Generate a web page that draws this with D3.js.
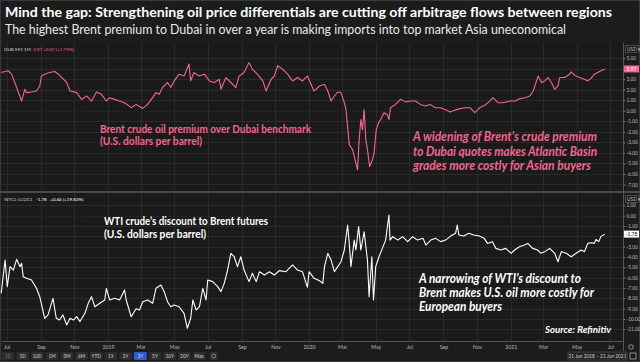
<!DOCTYPE html>
<html>
<head>
<meta charset="utf-8">
<script src="https://cdn.jsdelivr.net/npm/d3@7"></script>
<style>
body { margin: 0; background: #1c1c1c; }
svg { display: block; font-family: Lato, "Open Sans", sans-serif; }
</style>
</head>
<body>
<div id="chart"></div>
<script>
var width = 640;
var height = 362;

// Brent-Dubai EFS 1M (USD/bbl)
var brentDubai = [
  ["2018-06-21", 3.63], ["2018-07-04", 3.79], ["2018-07-10", 3.47], ["2018-07-19", 2.2],
  ["2018-07-28", 0.92], ["2018-08-03", 2.04], ["2018-08-06", 1.72], ["2018-08-15", 1.78],
  ["2018-08-24", 1.87], ["2018-08-30", 2.35], ["2018-09-02", 3.3], ["2018-09-08", 3.47],
  ["2018-09-17", 3.63], ["2018-09-26", 3.73], ["2018-10-03", 3.47], ["2018-10-09", 3.15],
  ["2018-10-18", 2.68], ["2018-10-24", 1.87], ["2018-11-05", 1.72], ["2018-11-14", 1.08],
  ["2018-11-23", 1.4], ["2018-12-02", 0.92], ["2018-12-11", 1.78], ["2018-12-20", 1.56],
  ["2018-12-29", 0.92], ["2019-01-04", 1.24], ["2019-01-13", 1.08], ["2019-01-22", 0.92],
  ["2019-01-31", 0.76], ["2019-02-12", 0.29], ["2019-02-21", 0.6], ["2019-03-05", 0.22],
  ["2019-03-14", 0.6], ["2019-03-23", 1.24], ["2019-03-29", 1.72], ["2019-04-04", 1.56],
  ["2019-04-10", 2.2], ["2019-04-19", 2.68], ["2019-04-25", 2.2], ["2019-05-01", 2.83],
  ["2019-05-10", 3.47], ["2019-05-19", 3.3], ["2019-05-28", 4.43], ["2019-05-31", 2.83],
  ["2019-06-06", 3.63], ["2019-06-15", 3.3], ["2019-06-25", 3.47], ["2019-07-04", 2.83],
  ["2019-07-13", 2.68], ["2019-07-22", 2.99], ["2019-07-25", 2.04], ["2019-08-03", 3.15],
  ["2019-08-12", 2.68], ["2019-08-21", 2.2], ["2019-08-27", 3.3], ["2019-09-05", 3.63],
  ["2019-09-14", 4.59], ["2019-09-20", 3.95], ["2019-09-29", 3.47], ["2019-10-09", 2.83],
  ["2019-10-15", 1.87], ["2019-10-24", 2.99], ["2019-10-30", 3.3], ["2019-11-05", 4.27],
  ["2019-11-14", 3.95], ["2019-11-23", 3.47], ["2019-12-02", 2.83], ["2019-12-11", 3.15],
  ["2019-12-20", 2.83], ["2019-12-29", 3.3], ["2020-01-10", 1.87], ["2020-01-20", 2.35],
  ["2020-01-29", 2.51], ["2020-02-04", 1.87], ["2020-02-10", 0.92], ["2020-02-16", 1.4],
  ["2020-02-22", 1.78], ["2020-02-28", 1.72], ["2020-03-05", 0.76], ["2020-03-08", 0.12],
  ["2020-03-14", -3.22], ["2020-03-20", -3.7], ["2020-03-23", -4.34], ["2020-03-29", -5.61],
  ["2020-04-01", -2.74], ["2020-04-04", -0.83], ["2020-04-07", -1.79], ["2020-04-10", 0.12],
  ["2020-04-13", -2.74], ["2020-04-16", -3.7], ["2020-04-20", -5.29], ["2020-04-25", -4.66],
  ["2020-04-28", -4.02], ["2020-05-02", -1.79], ["2020-05-06", -1.15], ["2020-05-10", -0.83],
  ["2020-05-16", -0.19], ["2020-05-22", -0.35], ["2020-05-25", -0.83], ["2020-05-28", 0.29],
  ["2020-06-06", 0.6], ["2020-06-15", 1.08], ["2020-06-24", 0.84], ["2020-07-03", 0.92],
  ["2020-07-12", 0.92], ["2020-07-21", 0.6], ["2020-07-30", 0.44], ["2020-08-08", 0.6],
  ["2020-08-17", 0.29], ["2020-08-26", 0.29], ["2020-09-04", 0.12], ["2020-09-13", -0.13],
  ["2020-09-22", 0.06], ["2020-10-01", 0.2], ["2020-10-10", 0.29], ["2020-10-19", 0.29],
  ["2020-10-28", -0.19], ["2020-11-06", 0.29], ["2020-11-15", 0.51], ["2020-11-24", 0.92],
  ["2020-11-30", 1.24], ["2020-12-09", 0.76], ["2020-12-18", 0.76], ["2020-12-31", 0.92],
  ["2021-01-09", 0.92], ["2021-01-18", 1.15], ["2021-01-27", 1.24], ["2021-02-05", 1.4],
  ["2021-02-11", 1.87], ["2021-02-17", 2.83], ["2021-02-20", 3.3], ["2021-02-26", 2.68],
  ["2021-03-04", 2.83], ["2021-03-10", 3.15], ["2021-03-16", 2.68], ["2021-03-22", 2.04],
  ["2021-03-28", 2.35], ["2021-03-31", 3.15], ["2021-04-09", 3.15], ["2021-04-18", 3.47],
  ["2021-04-21", 3.7], ["2021-04-27", 3.36], ["2021-05-06", 3.15], ["2021-05-15", 2.99],
  ["2021-05-21", 2.83], ["2021-05-27", 3.07], ["2021-06-02", 3.47], ["2021-06-08", 3.63],
  ["2021-06-14", 3.79], ["2021-06-21", 3.97]
];

// WTI - Brent front-month spread (USD/bbl)
var wtiBrent = [
  ["2018-06-21", -7.51], ["2018-06-28", -4.29], ["2018-07-02", -6.87], ["2018-07-07", -4.93],
  ["2018-07-13", -5.26], ["2018-07-19", -4.22], ["2018-07-25", -4.93], ["2018-07-28", -4.6],
  ["2018-07-31", -5.9], ["2018-08-06", -6.06], ["2018-08-15", -6.22], ["2018-08-24", -7.03],
  ["2018-08-30", -7.84], ["2018-09-08", -9.93], ["2018-09-14", -9.6], ["2018-09-23", -8.0],
  ["2018-09-29", -9.93], ["2018-10-05", -10.1], ["2018-10-11", -9.6], ["2018-10-18", -10.58],
  ["2018-10-24", -9.93], ["2018-10-30", -10.1], ["2018-11-05", -9.77], ["2018-11-11", -10.25],
  ["2018-11-20", -9.45], ["2018-11-26", -8.48], ["2018-12-02", -7.84], ["2018-12-08", -8.81],
  ["2018-12-17", -8.48], ["2018-12-26", -8.16], ["2018-12-29", -7.03], ["2019-01-04", -8.16],
  ["2019-01-13", -8.0], ["2019-01-22", -8.16], ["2019-01-31", -7.19], ["2019-02-03", -8.16],
  ["2019-02-12", -9.78], ["2019-02-21", -9.0], ["2019-02-27", -9.13], ["2019-03-05", -8.33],
  ["2019-03-14", -8.16], ["2019-03-23", -8.48], ["2019-03-29", -7.03], ["2019-04-07", -6.71],
  ["2019-04-13", -7.35], ["2019-04-19", -8.33], ["2019-04-25", -8.81], ["2019-05-01", -8.65],
  ["2019-05-10", -8.81], ["2019-05-19", -9.45], ["2019-05-25", -10.9], ["2019-05-31", -9.93],
  ["2019-06-04", -8.16], ["2019-06-10", -9.13], ["2019-06-16", -8.81], ["2019-06-22", -7.03],
  ["2019-06-28", -8.16], ["2019-07-01", -6.22], ["2019-07-10", -6.38], ["2019-07-19", -6.87],
  ["2019-07-25", -7.35], ["2019-07-31", -6.55], ["2019-08-06", -5.26], ["2019-08-12", -3.64],
  ["2019-08-18", -3.97], ["2019-08-24", -4.93], ["2019-08-30", -3.97], ["2019-09-05", -5.26],
  ["2019-09-14", -6.38], ["2019-09-20", -5.58], ["2019-09-27", -6.38], ["2019-10-03", -5.42],
  ["2019-10-12", -5.74], ["2019-10-21", -5.42], ["2019-10-30", -5.74], ["2019-11-08", -5.32],
  ["2019-11-20", -5.42], ["2019-12-02", -4.77], ["2019-12-11", -5.26], ["2019-12-20", -5.42],
  ["2019-12-29", -6.93], ["2020-01-01", -5.42], ["2020-01-10", -6.06], ["2020-01-20", -6.3],
  ["2020-01-26", -6.55], ["2020-01-29", -4.93], ["2020-02-04", -3.64], ["2020-02-10", -4.29],
  ["2020-02-16", -5.42], ["2020-02-22", -4.93], ["2020-02-28", -4.45], ["2020-03-05", -3.32],
  ["2020-03-11", -0.9], ["2020-03-14", -2.68], ["2020-03-17", -4.93], ["2020-03-23", -2.36],
  ["2020-03-26", -3.32], ["2020-03-31", -1.06], ["2020-04-04", -3.32], ["2020-04-10", -1.55],
  ["2020-04-16", -4.29], ["2020-04-19", -7.84], ["2020-04-24", -3.97], ["2020-04-27", -8.16],
  ["2020-05-01", -4.93], ["2020-05-07", -3.97], ["2020-05-13", -3.16], ["2020-05-19", -2.36],
  ["2020-05-25", 0.07], ["2020-05-27", -2.36], ["2020-06-01", -2.03], ["2020-06-10", -2.36],
  ["2020-06-19", -2.03], ["2020-06-28", -2.51], ["2020-07-07", -2.03], ["2020-07-16", -2.36],
  ["2020-07-26", -2.19], ["2020-07-31", -2.84], ["2020-08-09", -2.36], ["2020-08-18", -2.19],
  ["2020-08-27", -2.51], ["2020-09-05", -2.36], ["2020-09-14", -1.97], ["2020-09-23", -1.7],
  ["2020-09-26", -0.9], ["2020-09-29", -1.87], ["2020-10-08", -1.97], ["2020-10-17", -1.7],
  ["2020-10-26", -1.87], ["2020-11-05", -1.97], ["2020-11-14", -2.19], ["2020-11-20", -2.68],
  ["2020-11-29", -2.51], ["2020-12-05", -3.16], ["2020-12-14", -3.32], ["2020-12-23", -3.16],
  ["2021-01-02", -3.64], ["2021-01-08", -3.32], ["2021-01-17", -3.0], ["2021-01-26", -2.84],
  ["2021-02-01", -2.68], ["2021-02-10", -3.16], ["2021-02-19", -3.32], ["2021-02-25", -3.64],
  ["2021-03-04", -3.48], ["2021-03-13", -3.16], ["2021-03-22", -3.64], ["2021-03-28", -4.45],
  ["2021-04-03", -3.48], ["2021-04-12", -3.64], ["2021-04-21", -3.97], ["2021-04-30", -3.64],
  ["2021-05-09", -3.32], ["2021-05-15", -3.48], ["2021-05-21", -2.68], ["2021-05-27", -2.61],
  ["2021-06-02", -2.68], ["2021-06-05", -2.29], ["2021-06-10", -2.51], ["2021-06-14", -2.0],
  ["2021-06-21", -1.78]
];

var brentTicks = [-7, -6, -5, -4, -3, -2, -1, 0, 1, 2, 3, 4, 5];
var wtiTicks = [-11, -10, -9, -8, -7, -6, -5, -4, -3, -2, -1, 0, 1];
var rangeButtons = ["1D", "5D", "10D", "1M", "3M", "6M", "YTD", "1Y", "2Y", "3Y", "5Y", "10Y", "20Y", "Max"];
var activeRange = "3Y";
var dateRangeText = "21 Jun 2018  \u2013  21 Jun 2021";

var title = "Mind the gap: Strengthening oil price differentials are cutting off arbitrage flows between regions";
var subtitle = "The highest Brent premium to Dubai in over a year is making imports into top market Asia uneconomical";

var pink = "#f2668f";
var parseDate = d3.timeParse("%Y-%m-%d");
var fmt = function(d) { return d3.format(".2f")(d).replace("\u2212", "-"); };

var svg = d3.select("#chart").append("svg")
  .attr("width", width)
  .attr("height", height);

svg.append("rect").attr("width", width).attr("height", height).attr("fill", "#1c1c1c");
svg.append("rect").attr("x", 0.5).attr("y", 0.5).attr("width", width - 1).attr("height", height - 1)
  .attr("fill", "none").attr("stroke", "#3a3a3a");

// titles
svg.append("text").attr("x", 5).attr("y", 17)
  .attr("fill", "#fff").attr("font-weight", "bold").attr("font-size", 13.5)
  .attr("textLength", 607).attr("lengthAdjust", "spacingAndGlyphs")
  .text(title);
svg.append("text").attr("x", 5).attr("y", 34)
  .attr("fill", "#e8e8e8").attr("font-size", 12.5)
  .attr("textLength", 561).attr("lengthAdjust", "spacingAndGlyphs")
  .text(subtitle);

var axisX = 623;
var x = d3.scaleTime()
  .domain([new Date(2018, 5, 21), new Date(2021, 6, 24)])
  .range([1.2, axisX]);

var panels = [
  { data: brentDubai, ticks: brentTicks, top: 43, bottom: 191, domain: [-7.62, 6.43], color: pink,
    legend: [["DUB EFS 1M", "#cfcfcf", 4], ["3.97", pink, 33], ["+0.07 (+1.79%)", pink, 43]],
    boxFill: pink, boxText: "#fff" },
  { data: wtiBrent, ticks: wtiTicks, top: 193, bottom: 341, domain: [-12.13, 2.2], color: "#ffffff",
    legend: [["WTCL-LCOC1", "#cfcfcf", 4], ["-1.78", "#fff", 36], ["+0.44 (+19.82%)", "#fff", 50]],
    boxFill: "#fff", boxText: "#111" }
];

var monthTicks = x.ticks(d3.timeMonth.every(2));

panels.forEach(function(p, i) {
  var y = d3.scaleLinear().domain(p.domain).range([p.bottom, p.top]);
  var g = svg.append("g");

  g.append("rect").attr("x", 1).attr("y", p.top).attr("width", axisX - 1).attr("height", p.bottom - p.top)
    .attr("fill", "#1a1a1a");

  // grid
  g.selectAll(".hgrid").data(p.ticks).enter().append("line")
    .attr("x1", 1).attr("x2", axisX)
    .attr("y1", function(d) { return Math.round(y(d)) + 0.5; })
    .attr("y2", function(d) { return Math.round(y(d)) + 0.5; })
    .attr("stroke", "#2a2a2a")
    .attr("stroke-dasharray", function(d) { return d === 0 ? "2,2" : null; });
  g.selectAll(".vgrid").data(monthTicks).enter().append("line")
    .attr("x1", function(d) { return Math.round(x(d)) + 0.5; })
    .attr("x2", function(d) { return Math.round(x(d)) + 0.5; })
    .attr("y1", p.top).attr("y2", p.bottom)
    .attr("stroke", "#2a2a2a");

  var clipId = "clip" + i;
  svg.append("clipPath").attr("id", clipId).append("rect")
    .attr("x", 0).attr("y", p.top).attr("width", axisX).attr("height", p.bottom - p.top);

  var series = p.data.map(function(d) { return { date: parseDate(d[0]), value: d[1] }; });
  var lastVal = series[series.length - 1].value;
  var line = d3.line()
    .x(function(d) { return x(d.date); })
    .y(function(d) { return y(d.value); });

  g.append("path")
    .datum(series)
    .attr("clip-path", "url(#" + clipId + ")")
    .attr("fill", "none")
    .attr("stroke", p.color)
    .attr("stroke-width", 1.1)
    .attr("stroke-linejoin", "round")
    .attr("d", line);

  // right axis; the tick hidden behind the last-value box is left out
  var shown = p.ticks.filter(function(t) { return Math.abs(y(t) - y(lastVal)) > 5; });
  var axis = g.append("g")
    .attr("transform", "translate(" + axisX + ",0)")
    .call(d3.axisRight(y).tickValues(shown).tickFormat(fmt).tickSize(2).tickPadding(1.5));
  axis.select(".domain").remove();
  axis.selectAll("line").attr("stroke", "#888");
  axis.selectAll("text").attr("fill", "#b8b8b8").attr("font-size", 4.8).attr("font-family", "Lato, sans-serif");

  // USD unit box
  g.append("rect").attr("x", 625.5).attr("y", p.top + 2.5).attr("width", 13).attr("height", 7)
    .attr("fill", "#1c1c1c").attr("stroke", "#666").attr("stroke-width", 0.6);
  g.append("text").attr("x", 627).attr("y", p.top + 7.8).attr("fill", "#bbb").attr("font-size", 4.8)
    .text("USD \u25BE");

  // last value box
  var lastY = y(lastVal);
  g.append("rect").attr("x", 624).attr("y", lastY - 3.5).attr("width", 15).attr("height", 7)
    .attr("fill", p.boxFill);
  g.append("text").attr("x", 631.5).attr("y", lastY + 1.8).attr("text-anchor", "middle")
    .attr("fill", p.boxText).attr("font-size", 5).text(fmt(lastVal));

  // legend strip
  p.legend.forEach(function(l) {
    g.append("text").attr("x", l[2]).attr("y", p.top + 8).attr("fill", l[1]).attr("font-size", 4.6).text(l[0]);
  });
});

// panel separator
svg.append("rect").attr("x", 0).attr("y", 191).attr("width", width).attr("height", 2).attr("fill", "#4a4a4a");

// vertical axis line
svg.append("line").attr("x1", axisX + 0.5).attr("x2", axisX + 0.5).attr("y1", 43).attr("y2", 351)
  .attr("stroke", "#555");

// time axis
var xAxis = svg.append("g")
  .attr("transform", "translate(0,341)")
  .call(d3.axisBottom(x).tickValues(monthTicks).tickSize(0).tickPadding(4)
    .tickFormat(function(d) { return d.getMonth() === 0 ? d3.timeFormat("%Y")(d) : d3.timeFormat("%b")(d); }));
xAxis.select(".domain").attr("stroke", "#555");
xAxis.selectAll("text").attr("fill", "#b8b8b8").attr("font-size", 5.2).attr("font-family", "Lato, sans-serif");

// settings gear
svg.append("circle").attr("cx", 631).attr("cy", 347).attr("r", 2.3)
  .attr("fill", "none").attr("stroke", "#aaa").attr("stroke-width", 0.8);

// range buttons
var btn = svg.selectAll(".btn").data(rangeButtons).enter().append("g")
  .attr("transform", function(d, i) { return "translate(" + (8 + i * 14.7) + ",356)"; });
btn.append("rect").attr("x", -6.5).attr("y", -4).attr("width", 13).attr("height", 8).attr("rx", 1)
  .attr("fill", function(d) { return d === activeRange ? "#2f5bd6" : "#2c2c2c"; });
btn.append("text").attr("y", 1.8).attr("text-anchor", "middle").attr("font-size", 4.8)
  .attr("fill", function(d) { return d === "1D" ? "#777" : "#d0d0d0"; })
  .text(function(d) { return d; });
var gear2 = svg.append("g").attr("transform", "translate(" + (8 + rangeButtons.length * 14.7) + ",356)");
gear2.append("rect").attr("x", -4).attr("y", -4).attr("width", 8).attr("height", 8).attr("rx", 1).attr("fill", "#2c2c2c");
gear2.append("circle").attr("r", 2).attr("fill", "none").attr("stroke", "#aaa").attr("stroke-width", 0.7);

// date range box
svg.append("rect").attr("x", 568).attr("y", 352).attr("width", 59).attr("height", 8)
  .attr("fill", "#232323").attr("stroke", "#555").attr("stroke-width", 0.6);
svg.append("text").attr("x", 597.5).attr("y", 357.8).attr("text-anchor", "middle")
  .attr("fill", "#d0d0d0").attr("font-size", 4.8).text(dateRangeText);
svg.append("rect").attr("x", 630).attr("y", 353).attr("width", 6).attr("height", 6)
  .attr("fill", "none").attr("stroke", "#bbb").attr("stroke-width", 0.7);

// annotations
function note(lines, x0, y0, dy, size, color, italic, lengths) {
  lines.forEach(function(t, i) {
    var el = svg.append("text").attr("x", x0).attr("y", y0 + i * dy)
      .attr("fill", color).attr("font-size", size).attr("font-weight", "bold")
      .attr("font-style", italic ? "italic" : "normal")
      .text(t);
    if (lengths && lengths[i]) el.attr("textLength", lengths[i]).attr("lengthAdjust", "spacingAndGlyphs");
  });
}

note(["Brent crude oil premium over Dubai benchmark", "(U.S. dollars per barrel)"],
  100, 133, 11.5, 11, pink, false, [211, 102]);
note(["A widening of Brent's crude premium", "to Dubai quotes makes Atlantic Basin", "grades more costly for Asian buyers"],
  413, 141, 14.5, 12.5, pink, true, [184, 184, 178]);
note(["WTI crude\u2019s discount to Brent futures", "(U.S. dollars per barrel)"],
  104, 225, 12.5, 11, "#fff", false, [164, 102]);
note(["A narrowing of WTI\u2019s discount to", "Brent makes U.S. oil more costly for", "European buyers"],
  419, 283, 14, 12.5, "#fff", true, [162, 175, 83]);
note(["Source: Refinitiv"], 545, 333, 0, 9.5, "#fff", true, [66]);
</script>
</body>
</html>
